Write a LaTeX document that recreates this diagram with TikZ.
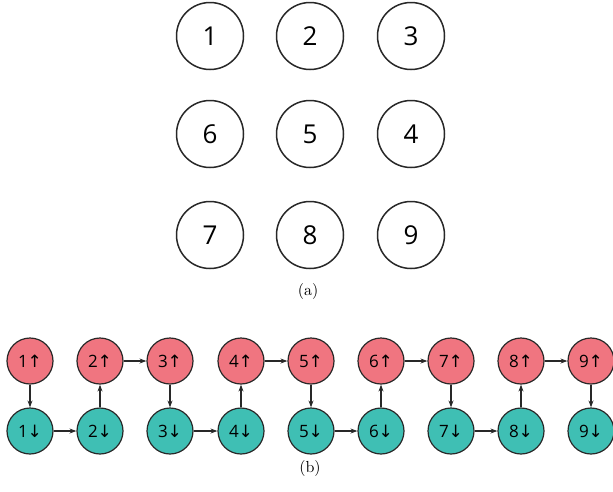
\documentclass[tikz,border=0pt]{standalone}
\usepackage{fontspec}
\usepackage{graphicx}
\setsansfont{Open Sans}
\newfontfamily\arrowfont{DejaVu Sans}
\usetikzlibrary{arrows.meta}
\definecolor{upred}{RGB}{240,117,128}
\definecolor{downteal}{RGB}{63,191,180}
\definecolor{edgegray}{RGB}{40,40,40}
\tikzset{
  bigsite/.style={circle,draw=edgegray,line width=1.5pt,minimum size=67pt,inner sep=0pt,font=\sffamily\fontsize{26}{26}\selectfont},
  upsite/.style={circle,draw=edgegray,line width=1.2pt,fill=upred,minimum size=46pt,inner sep=0pt,font=\sffamily\fontsize{17}{17}\selectfont},
  downsite/.style={circle,draw=edgegray,line width=1.2pt,fill=downteal,minimum size=46pt,inner sep=0pt,font=\sffamily\fontsize{17}{17}\selectfont},
  hop/.style={draw=edgegray,line width=1.1pt,-{Stealth[length=7pt,width=5pt]}},
  caplabel/.style={inner sep=0pt}
}
\begin{document}
\begin{tikzpicture}[x=1pt,y=-1pt]
\useasboundingbox (0,0) rectangle (613,491);
% (a)
\node[bigsite] (n1) at (210,36) {1};
\node[bigsite] (n2) at (310,36) {2};
\node[bigsite] (n3) at (411,36) {3};
\node[bigsite] (n6) at (210,134) {6};
\node[bigsite] (n5) at (310,134) {5};
\node[bigsite] (n4) at (411,134) {4};
\node[bigsite] (n7) at (210,235) {7};
\node[bigsite] (n8) at (310,235) {8};
\node[bigsite] (n9) at (411,235) {9};
\node[caplabel] (capa) at (308,291) {\scalebox{1.6}{(a)}};
% (b)
\foreach \i/\x in {1/30,2/100,3/170,4/241,5/311,6/381,7/451,8/521,9/591}{
  \node[upsite] (u\i) at (\x,361) {\i\arrowfont↑};
  \node[downsite] (d\i) at (\x,431) {\i\arrowfont↓};
}
\draw[hop] (u1) -- (d1);
\draw[hop] (d1) -- (d2);
\draw[hop] (d2) -- (u2);
\draw[hop] (u2) -- (u3);
\draw[hop] (u3) -- (d3);
\draw[hop] (d3) -- (d4);
\draw[hop] (d4) -- (u4);
\draw[hop] (u4) -- (u5);
\draw[hop] (u5) -- (d5);
\draw[hop] (d5) -- (d6);
\draw[hop] (d6) -- (u6);
\draw[hop] (u6) -- (u7);
\draw[hop] (u7) -- (d7);
\draw[hop] (d7) -- (d8);
\draw[hop] (d8) -- (u8);
\draw[hop] (u8) -- (u9);
\draw[hop] (u9) -- (d9);
\node[caplabel] (capb) at (310,468) {\scalebox{1.6}{(b)}};
\end{tikzpicture}
\end{document}
